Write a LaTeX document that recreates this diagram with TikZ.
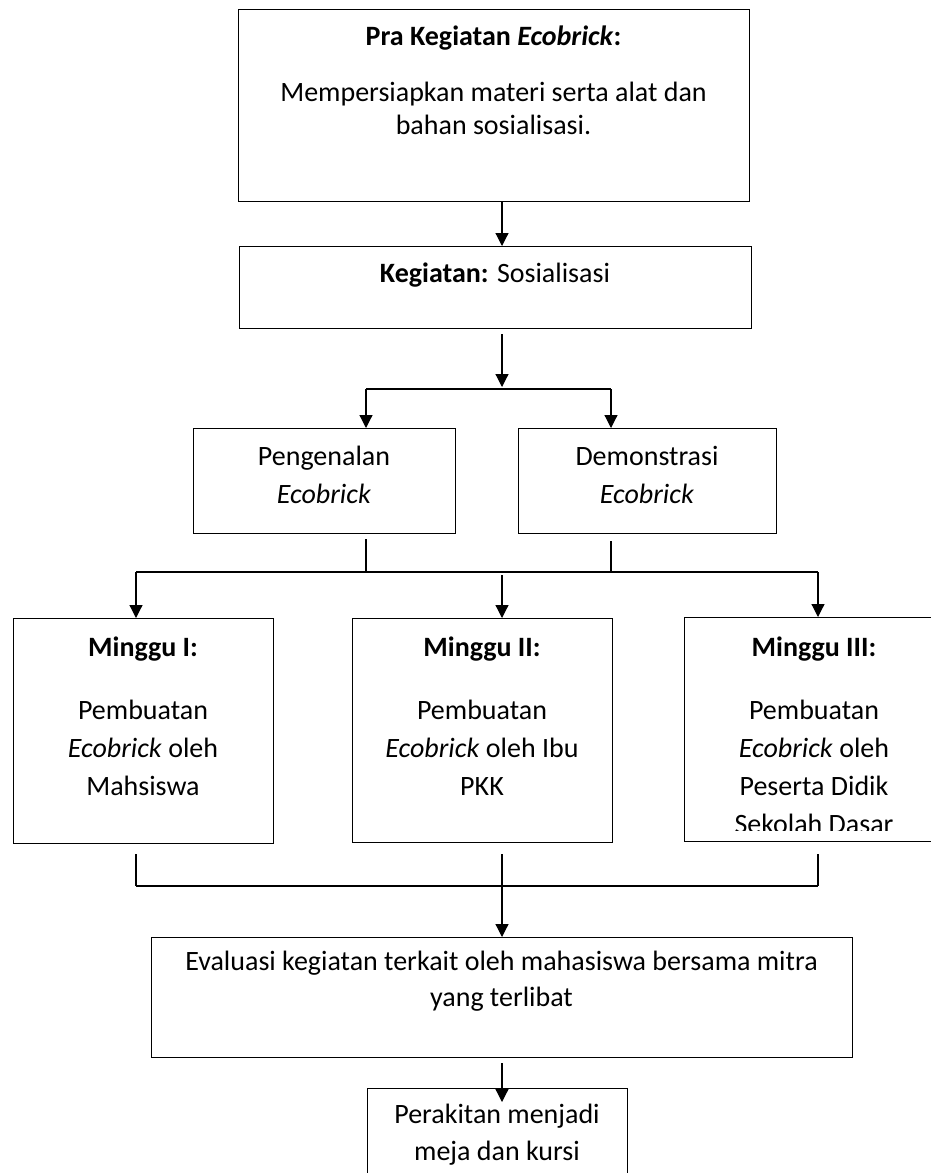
\documentclass[tikz,border=0pt]{standalone}
\usepackage{fontspec}
\setmainfont{Carlito}
\usetikzlibrary{arrows.meta}

\begin{document}
\begin{tikzpicture}[x=1pt, y=-1pt, >={Triangle[length=13pt,width=13pt]}, line width=1.2pt,
  box/.style={draw, inner sep=0pt, anchor=north west},
  txt/.style={align=center, anchor=base, inner sep=0pt, font=\fontsize{28}{38}\selectfont}]

\useasboundingbox (0,0) rectangle (931,1173);

\node[box, minimum width=511, minimum height=192] (pra) at (238,9) {};
\node[box, minimum width=512, minimum height=82] (keg) at (239,246) {};
\node[box, minimum width=262, minimum height=105] (peng) at (193,428) {};
\node[box, minimum width=258, minimum height=105] (demo) at (518,428) {};
\node[box, minimum width=260, minimum height=225] (m1) at (13,618) {};
\node[box, minimum width=260, minimum height=224] (m2) at (352,618) {};
\node[box, minimum width=260, minimum height=224] (m3) at (684,617) {};
\node[box, minimum width=701, minimum height=120] (eval) at (151,937) {};
\node[box, minimum width=260, minimum height=120] (fin) at (367,1088) {};

% anchor=base sits on the last line
\node[txt, font=\fontsize{28}{33}\selectfont] (pratext) at (493.5,134)
  {\textbf{Pra Kegiatan \textit{Ecobrick}:}\\[23pt]
   Mempersiapkan materi serta alat dan\\ bahan sosialisasi.};
\node[txt] (kegtext) at (495,282) {\textbf{Kegiatan:} Sosialisasi};
\node[txt] (pengtext) at (324,503) {Pengenalan\\ \textit{Ecobrick}};
\node[txt] (demotext) at (647,503) {Demonstrasi\\ \textit{Ecobrick}};
\node[txt] (m1text) at (143,795)
  {\textbf{Minggu I:}\\[25pt] Pembuatan\\ \textit{Ecobrick} oleh\\ Mahsiswa};
\node[txt] (m2text) at (482,795)
  {\textbf{Minggu II:}\\[25pt] Pembuatan\\ \textit{Ecobrick} oleh Ibu\\ PKK};
\begin{scope}
\clip (684,617) rectangle (931,830);
\node[txt] (m3text) at (814,833)
  {\textbf{Minggu III:}\\[25pt] Pembuatan\\ \textit{Ecobrick} oleh\\ Peserta Didik\\ Sekolah Dasar};
\end{scope}
\node[txt, font=\fontsize{28}{36}\selectfont] (evaltext) at (501.5,1006)
  {Evaluasi kegiatan terkait oleh mahasiswa bersama mitra\\ yang terlibat};
\node[txt, font=\fontsize{28}{37}\selectfont] (fintext) at (497,1160)
  {Perakitan menjadi\\ meja dan kursi};

\coordinate (a1) at (502,389);
\coordinate (pl) at (366,389);
\coordinate (pr) at (611,389);
\coordinate (ml) at (136,572);
\coordinate (mm) at (502,572);
\coordinate (mr) at (818,572);
\coordinate (bl) at (136,886);
\coordinate (bm) at (502,886);
\coordinate (br) at (818,886);

\draw[->] (pra.south -| a1) -- (keg.north -| a1);
\draw[->] ([yshift=-5pt]keg.south -| a1) -- ([yshift=2pt]a1);
\draw (pl) -- (pr);
\draw[->] (pl) -- (pl |- peng.north);
\draw[->] (pr) -- (pr |- demo.north);

\draw ([yshift=-5pt]peng.south -| pl) -- (pl |- ml);
\draw ([yshift=-7pt]demo.south -| pr) -- (pr |- mr);
\draw (ml) -- (mr);
\draw[->] (ml) -- (ml |- m1.north);
\draw[->] ([yshift=-3pt]mm) -- (mm |- m2.north);
\draw[->] (mr) -- (mr |- m3.north);

\draw ([yshift=-10pt]m1.south -| bl) -- (bl);
\draw ([yshift=-11pt]m2.south -| bm) -- (bm);
\draw ([yshift=-12pt]m3.south -| br) -- (br);
\draw (bl) -- (br);
\draw[->] (bm) -- (bm |- eval.north);
\draw[->] ([yshift=-5pt]eval.south -| bm) -- ([yshift=-14pt]fin.north -| bm);

\end{tikzpicture}
\end{document}
